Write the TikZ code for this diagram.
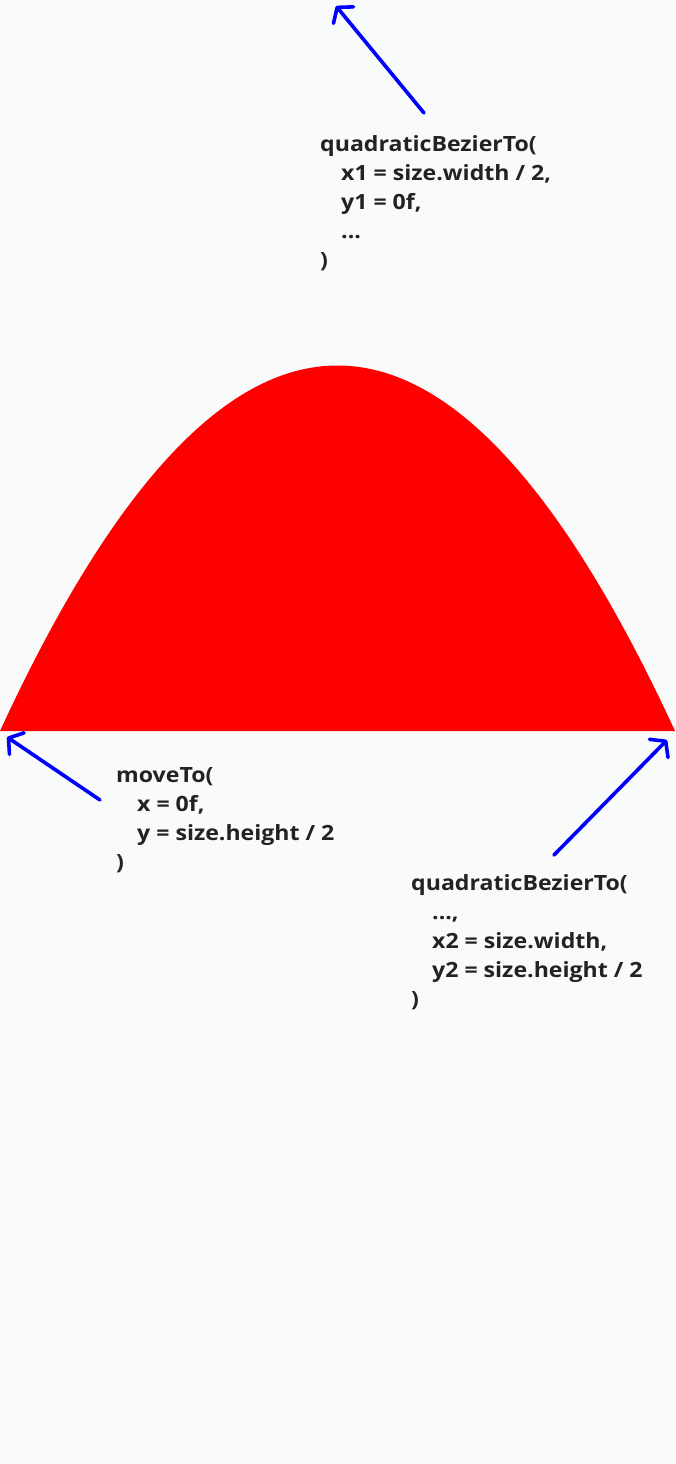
\documentclass[tikz,border=0pt]{standalone}
\usepackage{fontspec}
\setmainfont{Open Sans}[FakeStretch=1.1]
\usepackage{xcolor}
\definecolor{Paper}{HTML}{F9FAFA}
\definecolor{Ink}{HTML}{222222}
\definecolor{Arc}{HTML}{FF0000}
\definecolor{Pointer}{HTML}{0000FF}
\usetikzlibrary{arrows.meta,positioning}
\newcommand{\ind}{\hspace*{21pt}}

\begin{document}
\begin{tikzpicture}[
  x=1pt,y=-1pt,
  every node/.style={font=\bfseries\fontsize{21}{29}\selectfont,text=Ink,align=left,inner sep=0pt},
  code/.style={anchor=base west},
  arrow/.style={-{Straight Barb[length=10pt,width=26pt,line cap=round,line join=round]},
    line width=3.6pt,line cap=round,draw=Pointer}
]
\fill[Paper] (0,0) rectangle (675,1464);
\useasboundingbox (0,0) rectangle (675,1464);
% the arc, quadratic bezier as a cubic
\fill[Arc] (0,731) .. controls (225,243.67) and (450,243.67) .. (675,731) -- cycle;
% code labels (placed at the baseline of their last line)
\node[code] (ctrl) at (320,267) {quadraticBezierTo(\\\ind x1 = size.width / 2,\\\ind y1 = 0f,\\\ind ...\\)};
\node[code] (move) at (116,869) {moveTo(\\\ind x = 0f,\\\ind y = size.height / 2\\)};
\node[code] (end) at (411,1006) {quadraticBezierTo(\\\ind ...,\\\ind x2 = size.width,\\\ind y2 = size.height / 2\\)};
% arrow ends
\coordinate (ctrl tail) at (424,113);
\coordinate (ctrl tip) at (336,6);
\coordinate (move tail) at (100,800);
\coordinate (move tip) at (7,737);
\coordinate (end tail) at (554,855);
\coordinate (end tip) at (667,740);
\draw[arrow] (ctrl tail) -- (ctrl tip);
\draw[arrow] (move tail) -- (move tip);
\draw[arrow] (end tail) -- (end tip);
\end{tikzpicture}
\end{document}
